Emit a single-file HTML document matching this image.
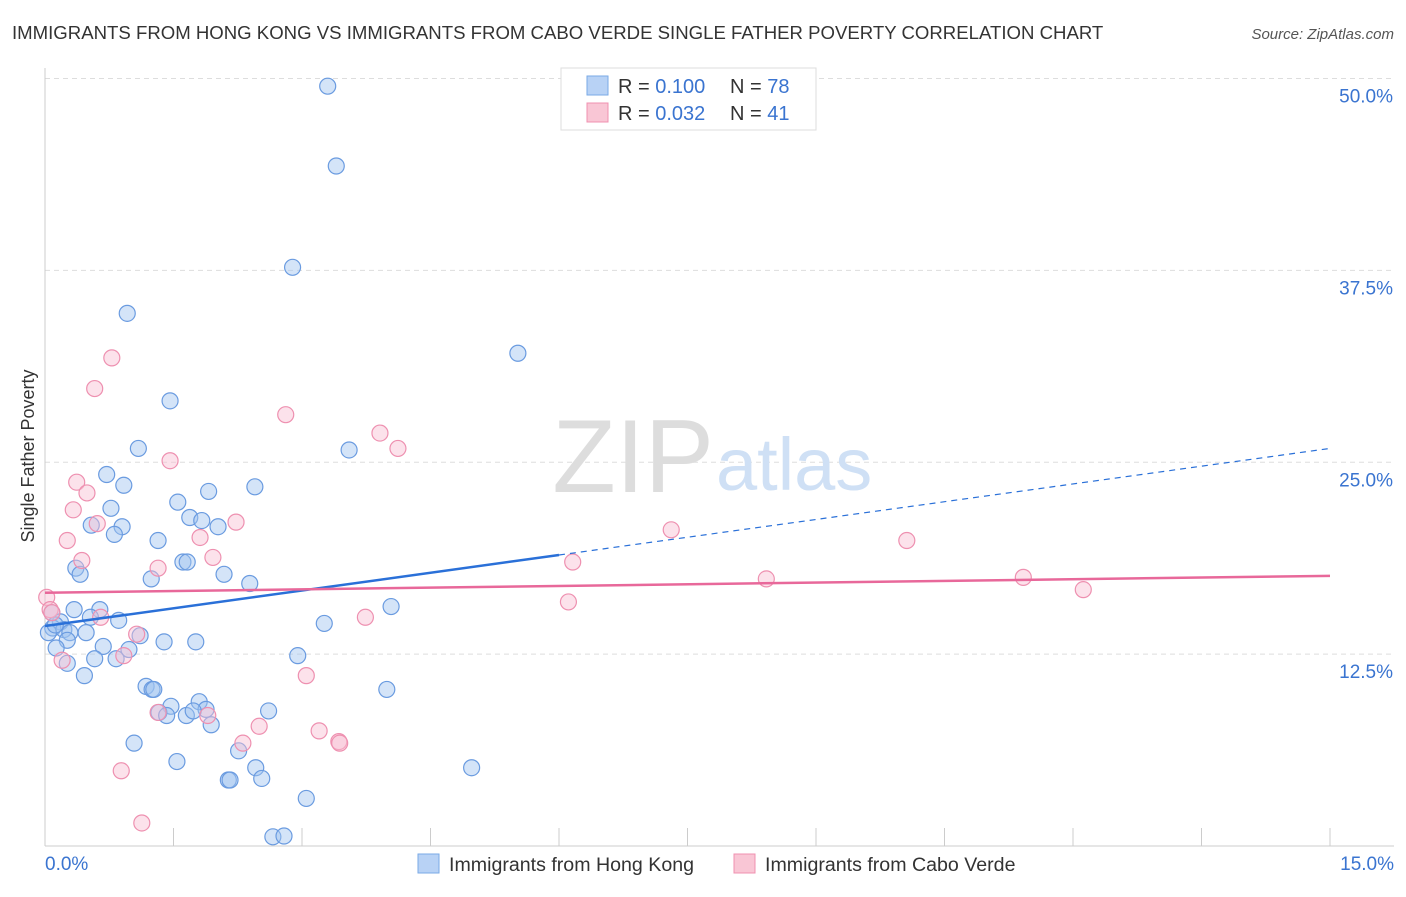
<!DOCTYPE html>
<html><head><meta charset="utf-8"><style>
body{margin:0;background:#fff;font-family:"Liberation Sans",sans-serif;}
svg text{font-family:"Liberation Sans",sans-serif;}
</style></head><body>
<svg id="chart" width="1406" height="892">
<text x="12" y="39" font-size="18.6" fill="#333">IMMIGRANTS FROM HONG KONG VS IMMIGRANTS FROM CABO VERDE SINGLE FATHER POVERTY CORRELATION CHART</text>
<text x="1394" y="39" font-size="15" fill="#555" font-style="italic" text-anchor="end">Source: ZipAtlas.com</text>
<text x="34" y="456" font-size="18" fill="#333" text-anchor="middle" transform="rotate(-90 34 456)">Single Father Poverty</text>
<g id="grid"></g>
<text x="714" y="492" font-size="104" fill="#ddd" text-anchor="end" font-family="Liberation Serif">ZIP</text>
<text x="716" y="490" font-size="74" fill="#cfe0f5">atlas</text>
<g id="points"></g>
<g id="lines"></g>
<g>
<rect x="561" y="68" width="255" height="62" fill="#fff" stroke="#ddd"/>
<rect x="587" y="76" width="21" height="19" fill="#b8d2f5" stroke="#7aaae6"/>
<rect x="587" y="103" width="21" height="19" fill="#f9c6d5" stroke="#f090b0"/>
<text x="618" y="93" font-size="20" fill="#333">R = <tspan fill="#3a74d0">0.100</tspan></text>
<text x="730" y="93" font-size="20" fill="#333">N = <tspan fill="#3a74d0">78</tspan></text>
<text x="618" y="120" font-size="20" fill="#333">R = <tspan fill="#3a74d0">0.032</tspan></text>
<text x="730" y="120" font-size="20" fill="#333">N = <tspan fill="#3a74d0"> 41</tspan></text>
</g>
<g>
<rect x="418" y="854" width="21" height="19" fill="#b8d2f5" stroke="#7aaae6"/>
<text x="449" y="871" font-size="19.6" fill="#333">Immigrants from Hong Kong</text>
<rect x="734" y="854" width="21" height="19" fill="#f9c6d5" stroke="#f090b0"/>
<text x="765" y="871" font-size="19.6" fill="#333">Immigrants from Cabo Verde</text>
</g>
</svg>
<script>
const xTicks=[0,1.5,3,4.5,6,7.5,9,10.5,12,13.5,15];
const yTicks=[12.5,25,37.5,50];
const yTickLabels=["12.5%","25.0%","37.5%","50.0%"];
const xLabels=["0.0%","15.0%"];
const blueX=[3.30,3.40,2.89,0.96,5.52,1.46,1.09,3.55,0.72,0.92,2.45,1.91,1.55,0.77,0.54,0.90,1.69,1.83,2.02,0.81,1.32,1.61,1.66,0.36,0.41,2.09,1.24,2.39,4.04,0.34,0.64,0.08,0.53,0.86,0.18,0.09,0.22,0.29,0.48,1.11,3.26,0.26,1.39,1.76,0.13,0.68,0.98,0.58,0.83,2.95,0.26,0.46,1.18,1.25,1.27,3.99,1.47,1.80,1.33,1.42,1.65,1.88,1.73,2.61,1.94,1.04,2.26,2.46,1.54,4.98,2.14,2.16,2.53,3.05,2.66,2.79,0.04,0.12];
const blueY=[49.5,44.3,37.7,34.7,32.1,29.0,25.9,25.8,24.2,23.5,23.4,23.1,22.4,22.0,20.9,20.8,21.4,21.2,20.8,20.3,19.9,18.5,18.5,18.1,17.7,17.7,17.4,17.1,15.6,15.4,15.4,15.2,14.9,14.7,14.6,14.2,14.1,13.9,13.9,13.7,14.5,13.4,13.3,13.3,12.9,13.0,12.8,12.2,12.2,12.4,11.9,11.1,10.4,10.2,10.2,10.2,9.1,9.4,8.7,8.5,8.5,8.9,8.8,8.8,7.9,6.7,6.2,5.1,5.5,5.1,4.3,4.3,4.4,3.1,0.6,0.65,13.9,14.4];
const pinkX=[0.78,0.58,2.81,3.91,4.12,1.46,0.37,0.49,0.33,0.61,2.23,7.31,0.26,10.06,1.81,0.43,1.96,6.16,1.32,8.42,11.42,12.12,0.02,6.11,0.06,0.65,3.74,1.07,0.92,0.20,3.05,1.32,1.90,2.50,3.20,2.31,3.43,3.44,0.89,1.13,0.08];
const pinkY=[31.8,29.8,28.1,26.9,25.9,25.1,23.7,23.0,21.9,21.0,21.1,20.6,19.9,19.9,20.1,18.6,18.8,18.5,18.1,17.4,17.5,16.7,16.2,15.9,15.4,14.9,14.9,13.8,12.4,12.1,11.1,8.7,8.5,7.8,7.5,6.7,6.8,6.7,4.9,1.5,15.2];
const blueTrend=[14.33,25.9];
const pinkTrend=[16.5,17.6];
const NS="http://www.w3.org/2000/svg";
const X=v=>45+v*(1330-45)/15;
const Y=v=>846-v*15.35;
function mk(tag,attrs,parent){const e=document.createElementNS(NS,tag);for(const k in attrs)e.setAttribute(k,attrs[k]);parent.appendChild(e);return e;}
const grid=document.getElementById('grid');
yTicks.forEach((t,i)=>{
 const l=mk('line',{x1:45,x2:1394,y1:Y(t),y2:Y(t),stroke:'#ddd','stroke-dasharray':'5,4'},grid);
 
 
 const tx=mk('text',{x:1393,y:Y(t)+24,'font-size':19,fill:'#3a74d0','text-anchor':'end'},grid);
 tx.textContent=yTickLabels[i];
 
 
});
const ax=mk('line',{x1:45,x2:1394,y1:846,y2:846,stroke:'#ccc'},grid);


const ay=mk('line',{x1:45,x2:45,y1:68,y2:846,stroke:'#ccc'},grid);


xTicks.forEach(t=>{const l=mk('line',{x1:X(t),x2:X(t),y1:828,y2:846,stroke:'#ccc'},grid);
 
 });
[[0,'start',45],[15,'end',1394]].forEach((d,i)=>{const tx=mk('text',{x:d[2],y:870,'font-size':19,fill:'#3a74d0','text-anchor':d[1]},grid);tx.textContent=xLabels[i];
 
 });
const pts=document.getElementById('points');
blueX.forEach((x,i)=>{const c=mk('circle',{cx:X(x),cy:Y(blueY[i]),r:8,fill:'rgba(160,196,240,0.45)',stroke:'#6a9be0','stroke-width':1.2},pts);
 
 });
pinkX.forEach((x,i)=>{const c=mk('circle',{cx:X(x),cy:Y(pinkY[i]),r:8,fill:'rgba(248,190,210,0.45)',stroke:'#ee90b0','stroke-width':1.2},pts);
 
 });
const ln=document.getElementById('lines');
const bAt=x=>blueTrend[0]+(blueTrend[1]-blueTrend[0])*x/15;
const b1=mk('line',{x1:X(0),y1:Y(bAt(0)),x2:X(6),y2:Y(bAt(6)),stroke:'#2a70d8','stroke-width':2.5},ln);


const b2=mk('line',{x1:X(6),y1:Y(bAt(6)),x2:X(15),y2:Y(bAt(15)),stroke:'#2a70d8','stroke-width':1.2,'stroke-dasharray':'6,5'},ln);


const p1=mk('line',{x1:X(0),y1:Y(pinkTrend[0]),x2:X(15),y2:Y(pinkTrend[1]),stroke:'#e8689a','stroke-width':2.5},ln);


</script>
</body></html>
